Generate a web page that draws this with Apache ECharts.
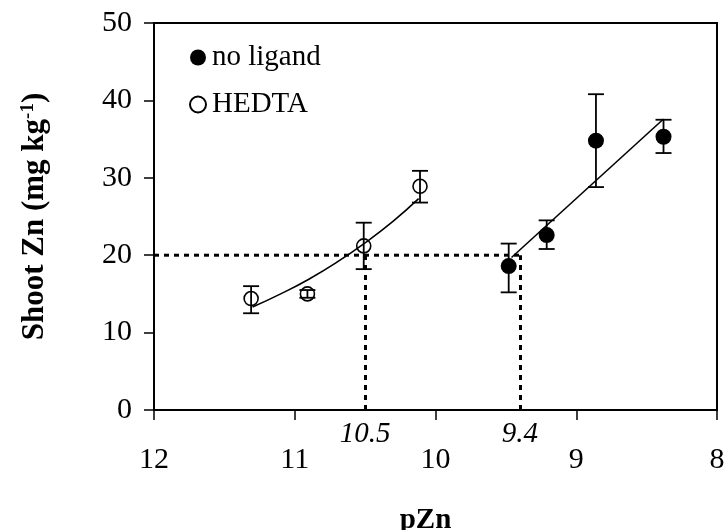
<!DOCTYPE html>
<html>
<head>
<meta charset="utf-8">
<script src="https://cdn.jsdelivr.net/npm/echarts@6/dist/echarts.min.js"></script>
<style>
  html, body { margin: 0; padding: 0; background: #fff; }
  #chart { width: 726px; height: 530px; }
</style>
</head>
<body>
<div id="chart"></div>
<script>
// values
var pznNoLigand = [9.48, 9.21, 8.86, 8.38];
var znNoLigand = [18.6, 22.6, 34.8, 35.3];
var lowNoLigand = [15.2, 20.8, 28.8, 33.2];
var highNoLigand = [21.5, 24.5, 40.8, 37.5];

var pznHedta = [11.31, 10.91, 10.51, 10.11];
var znHedta = [14.4, 15.0, 21.2, 28.9];
var lowHedta = [12.5, 14.5, 18.2, 26.8];
var highHedta = [16.0, 15.5, 24.2, 30.9];

// trend lines as drawn
var fitNoLigandX = [9.46, 8.38];
var fitNoLigandY = [19.7, 37.6];
var fitHedtaX = [11.30, 11.1, 10.9, 10.7, 10.5, 10.3, 10.12];
var fitHedtaY = [13.3, 15.0, 16.9, 19.1, 21.6, 24.4, 27.3];

// dotted guides
var guideZn = 20;
var guidePzn = [10.5, 9.4];

var xTicks = [12, 11, 10, 9, 8];
var FONT = 'Liberation Serif';

function zip(a, b, c) {
    var out = [];
    for (var i = 0; i < a.length; i++) {
        out.push(c ? [a[i], b[i], c[i]] : [a[i], b[i]]);
    }
    return out;
}

function renderErrorBar(params, api) {
    var x = api.value(0);
    var lo = api.coord([x, api.value(1)]);
    var hi = api.coord([x, api.value(2)]);
    var half = 8;
    var style = { stroke: '#000', lineWidth: 1.8, fill: null };
    return {
        type: 'group',
        children: [
            { type: 'line', shape: { x1: hi[0], y1: hi[1], x2: lo[0], y2: lo[1] }, style: style },
            { type: 'line', shape: { x1: hi[0] - half, y1: hi[1], x2: hi[0] + half, y2: hi[1] }, style: style },
            { type: 'line', shape: { x1: lo[0] - half, y1: lo[1], x2: lo[0] + half, y2: lo[1] }, style: style }
        ]
    };
}

var myChart = echarts.init(document.getElementById('chart'));

var guideLabel = {
    show: true,
    position: 'start',
    distance: 10,
    fontFamily: FONT,
    fontStyle: 'italic',
    fontSize: 29,
    color: '#000'
};

option = {
    animation: false,
    backgroundColor: '#fff',
    textStyle: { fontFamily: FONT, color: '#000' },
    grid: {
        left: 154, right: 9, top: 23, bottom: 120,
        outerBoundsMode: 'none',
        containLabel: false,
        show: true, borderColor: '#000', borderWidth: 2
    },
    legend: {
        orient: 'vertical',
        left: 184,
        top: 38,
        itemWidth: 16,
        itemHeight: 16,
        itemGap: 18,
        data: [
            { name: 'no ligand', icon: 'circle' },
            { name: 'HEDTA', icon: 'circle' }
        ],
        textStyle: { fontFamily: FONT, fontSize: 29, color: '#000', padding: [0, 0, 0, 1] }
    },
    xAxis: {
        type: 'value',
        min: 8, max: 12, interval: 1,
        inverse: true,
        name: 'pZn',
        nameLocation: 'middle',
        nameGap: 96,
        nameTextStyle: { fontFamily: FONT, fontWeight: 'bold', fontSize: 29, color: '#000', padding: [0, 20, 0, 0] },
        axisLine: { show: true, onZero: false, lineStyle: { color: '#000', width: 2 } },
        axisTick: { show: true, inside: false, length: 10, lineStyle: { color: '#000', width: 1.5 } },
        axisLabel: {
            margin: 35, fontFamily: FONT, fontSize: 30, color: '#000',
            formatter: function (v) { return xTicks.indexOf(v) >= 0 ? String(v) : ''; }
        },
        splitLine: { show: false }
    },
    yAxis: {
        type: 'value',
        min: 0, max: 50, interval: 10,
        name: 'Shoot Zn (mg kg{sup|-1})',
        nameLocation: 'middle',
        nameGap: 103,
        nameTextStyle: {
            fontFamily: FONT, fontWeight: 'bold', fontSize: 31, color: '#000',
            rich: {
                sup: { fontFamily: FONT, fontWeight: 'bold', fontSize: 19, verticalAlign: 'top', padding: [0, 0, 13, 0] }
            }
        },
        axisLine: { show: true, lineStyle: { color: '#000', width: 2 } },
        axisTick: { show: true, inside: false, length: 10, lineStyle: { color: '#000', width: 1.5 } },
        axisLabel: { margin: 22, fontFamily: FONT, fontSize: 30, color: '#000' },
        splitLine: { show: false }
    },
    series: [
        {
            name: 'guide',
            type: 'line',
            data: [[xTicks[0], guideZn], [guidePzn[1], guideZn]],
            showSymbol: false,
            silent: true,
            lineStyle: { color: '#000', width: 3, type: [5, 5] },
            markLine: {
                symbol: 'none',
                silent: true,
                lineStyle: { color: '#000', width: 3, type: [5, 5] },
                data: [
                    [{ coord: [guidePzn[0], 0], label: Object.assign({ formatter: '10.5' }, guideLabel) }, { coord: [guidePzn[0], guideZn] }],
                    [{ coord: [guidePzn[1], 0], label: Object.assign({ formatter: '9.4' }, guideLabel) }, { coord: [guidePzn[1], guideZn] }]
                ]
            }
        },
        {
            name: 'fit HEDTA',
            type: 'line',
            data: zip(fitHedtaX, fitHedtaY),
            smooth: true,
            showSymbol: false,
            silent: true,
            lineStyle: { color: '#000', width: 1.6 }
        },
        {
            name: 'fit no ligand',
            type: 'line',
            data: zip(fitNoLigandX, fitNoLigandY),
            showSymbol: false,
            silent: true,
            lineStyle: { color: '#000', width: 1.6 }
        },
        {
            name: 'err no ligand',
            type: 'custom',
            renderItem: renderErrorBar,
            encode: { x: 0, y: [1, 2] },
            data: zip(pznNoLigand, lowNoLigand, highNoLigand),
            z: 3
        },
        {
            name: 'err HEDTA',
            type: 'custom',
            renderItem: renderErrorBar,
            encode: { x: 0, y: [1, 2] },
            data: zip(pznHedta, lowHedta, highHedta),
            z: 3
        },
        {
            name: 'no ligand',
            type: 'scatter',
            data: zip(pznNoLigand, znNoLigand),
            symbol: 'circle',
            symbolSize: 16,
            itemStyle: { color: '#000', opacity: 1 },
            z: 4
        },
        {
            name: 'HEDTA',
            type: 'scatter',
            data: zip(pznHedta, znHedta),
            symbol: 'circle',
            symbolSize: 14,
            itemStyle: { color: 'rgba(0,0,0,0)', borderColor: '#000', borderWidth: 1.6, opacity: 1 },
            z: 4
        }
    ]
};
myChart.setOption(option);
</script>
</body>
</html>
